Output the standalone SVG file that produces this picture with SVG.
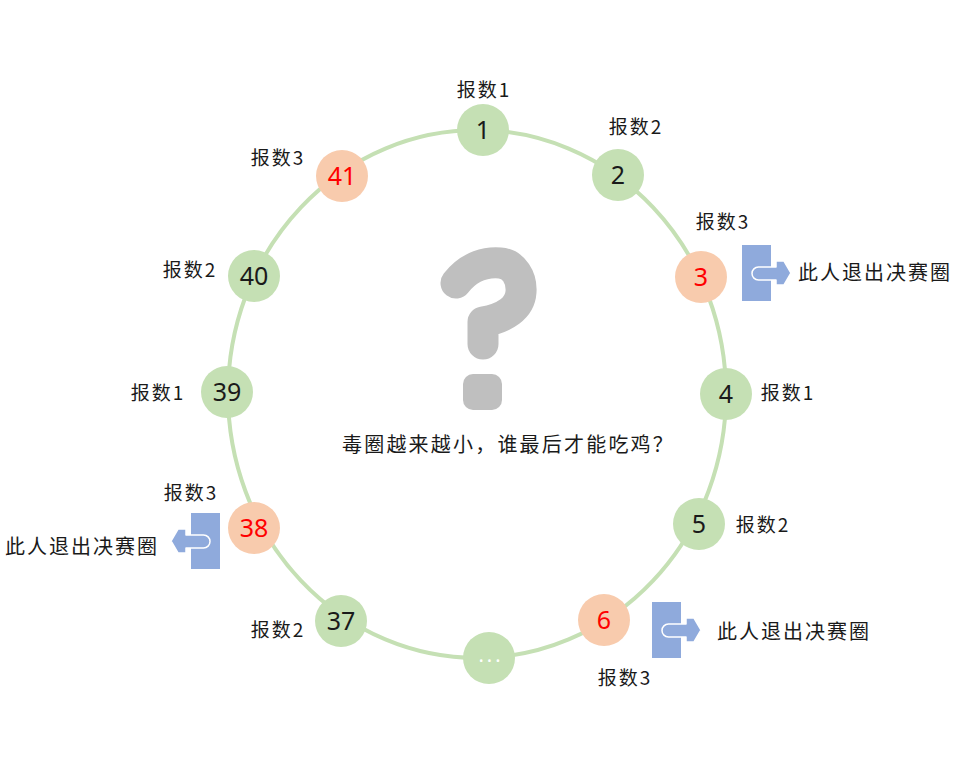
<svg xmlns="http://www.w3.org/2000/svg" width="960" height="782" viewBox="0 0 960 782">
<style>
.ring{fill:none;stroke:#c5e0b4;stroke-width:4}
.g{fill:#c5e0b4}
.o{fill:#f8cbad}
.num{font-family:"Noto Sans","DejaVu Sans",sans-serif;font-size:25px;text-anchor:middle;fill:#1a1a1a}
.red{fill:#ff0000}
.lbl{font-family:"Noto Sans CJK SC","Noto Sans",sans-serif;font-size:19px;letter-spacing:2px;text-anchor:middle;fill:#1a1a1a}
.exit{font-family:"Noto Sans CJK SC","Noto Sans",sans-serif;font-size:20px;letter-spacing:2px;fill:#1a1a1a}
.cap{font-family:"Noto Sans CJK SC","Noto Sans",sans-serif;font-size:20px;letter-spacing:2.2px;fill:#1a1a1a}
.dots{font-family:"Noto Sans","DejaVu Sans",sans-serif;font-size:20px;letter-spacing:3px;text-anchor:middle;fill:#ffffff}
</style>
<defs>
<g id="exitIcon">
<rect x="0" y="0" width="29" height="56" fill="#8faadc"/>
<path d="M34 22 L34 16 L42 16 L49 28 L42 40 L34 40 L34 35 L16.5 35 A6.5 6.5 0 0 1 16.5 22 Z" fill="#8faadc" stroke="#ffffff" stroke-width="1.5" stroke-linejoin="round"/>
</g>
</defs>
<rect x="0" y="0" width="960" height="782" fill="#ffffff"/>
<g id="connectors">
<ellipse class="ring" cx="477" cy="394" rx="249" ry="264"/>
</g>
<g id="question-mark">
<path d="M456 283 C470 265 488 262 500 263 C514 264 522 278 521 292 C520 308 505 318 483 322 L483 344" fill="none" stroke="#bfbfbf" stroke-width="31" stroke-linecap="round" stroke-linejoin="round"/>
<rect x="463" y="374" width="39" height="36" rx="10" fill="#bfbfbf"/>
</g>
<text class="cap" x="342" y="452">毒圈越来越小，谁最后才能吃鸡？</text>
<g id="n1"><circle class="g" cx="483" cy="130" r="26"/><text class="num" x="483" y="139">1</text><text class="lbl" x="484" y="97">报数1</text></g>
<g id="n2"><circle class="g" cx="618" cy="175" r="26"/><text class="num" x="618" y="184">2</text><text class="lbl" x="636" y="134">报数2</text></g>
<g id="n3"><circle class="o" cx="701" cy="277" r="26"/><text class="num red" x="701" y="286">3</text><text class="lbl" x="723" y="229">报数3</text></g>
<g id="n4"><circle class="g" cx="726" cy="394" r="26"/><text class="num" x="726" y="403">4</text><text class="lbl" x="788" y="400">报数1</text></g>
<g id="n5"><circle class="g" cx="699" cy="524" r="26"/><text class="num" x="699" y="533">5</text><text class="lbl" x="763" y="532">报数2</text></g>
<g id="n6"><circle class="o" cx="604" cy="620" r="26"/><text class="num red" x="604" y="629">6</text><text class="lbl" x="625" y="685">报数3</text></g>
<g id="nEllipsis"><circle class="g" cx="489" cy="658" r="26"/><text class="dots" x="491" y="662">...</text></g>
<g id="n37"><circle class="g" cx="341" cy="621" r="26"/><text class="num" x="341" y="630">37</text><text class="lbl" x="278" y="637">报数2</text></g>
<g id="n38"><circle class="o" cx="254" cy="528" r="26"/><text class="num red" x="254" y="537">38</text><text class="lbl" x="191" y="500">报数3</text></g>
<g id="n39"><circle class="g" cx="227" cy="392" r="26"/><text class="num" x="227" y="401">39</text><text class="lbl" x="158" y="400">报数1</text></g>
<g id="n40"><circle class="g" cx="254" cy="276" r="26"/><text class="num" x="254" y="285">40</text><text class="lbl" x="190" y="277">报数2</text></g>
<g id="n41"><circle class="o" cx="342" cy="176" r="26"/><text class="num red" x="342" y="185">41</text><text class="lbl" x="278" y="165">报数3</text></g>
<g id="exit3"><use href="#exitIcon" transform="translate(742,245)"/><text class="exit" x="798" y="280">此人退出决赛圈</text></g>
<g id="exit6"><use href="#exitIcon" transform="translate(652,602)"/><text class="exit" x="717" y="639">此人退出决赛圈</text></g>
<g id="exit38"><use href="#exitIcon" transform="translate(220,513) scale(-1,1)"/><text class="exit" x="5" y="554">此人退出决赛圈</text></g>
</svg>
